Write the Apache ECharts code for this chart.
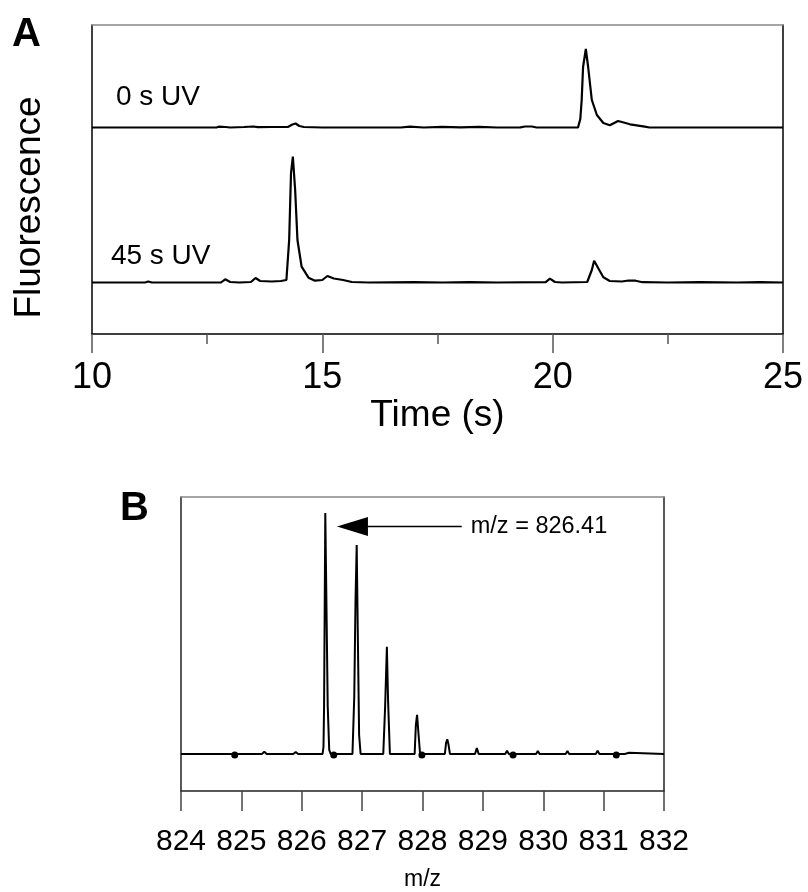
<!DOCTYPE html>
<html>
<head>
<meta charset="utf-8">
<script src="https://cdn.jsdelivr.net/npm/echarts@6/dist/echarts.min.js"></script>
<style>
html,body{margin:0;padding:0;background:#fff;}
#c{width:808px;height:892px;}
</style>
</head>
<body>
<div id="c"></div>
<script>
// ---------- Panel A data: time (s) vs fluorescence (arb.) ----------
var timeTicksA = [10, 15, 20, 25];
var trace0sUV = [
  [10,206.5],[12.7,206.5],[12.75,207.3],[12.9,207],[13.0,206.5],[13.3,207],[13.5,207.5],[13.6,206.8],
  [13.9,207],[14.25,207],[14.35,209.5],[14.42,210.5],[14.5,208],[14.6,207],[15.0,206.5],[16.7,206.5],
  [16.9,207.3],[17.2,206.5],[17.6,207.2],[18.0,206.6],[18.4,207.2],[18.8,206.5],[19.3,206.6],
  [19.4,207.5],[19.55,207.5],[19.65,206.5],[20.55,206.5],[20.6,215],[20.63,234],[20.66,267],
  [20.72,285],[20.77,267],[20.85,234],[20.96,219],[21.1,211],[21.24,208.7],[21.42,213],[21.68,209.7],
  [22.0,207.3],[22.1,206.5],[25,206.5]
];
var trace45sUV = [
  [10,51.5],[11.15,51.5],[11.22,52.5],[11.3,51.5],[12.8,51.5],[12.89,54.7],[13.0,52],[13.2,51.5],
  [13.45,52],[13.55,56],[13.65,53],[13.9,52.5],[14.1,53],[14.22,54],[14.28,94],[14.32,161],
  [14.36,177.3],[14.41,144],[14.46,94],[14.55,67.3],[14.70,56.3],[14.84,53.3],[15.0,54],[15.11,58],
  [15.25,55.5],[15.45,54],[15.64,52],[16.0,51.5],[17.0,51.8],[17.6,51.5],[18.2,51.9],[18.8,51.5],
  [19.85,51.8],[19.94,55.3],[20.05,52],[20.2,51.5],[20.75,52],[20.8,58],[20.85,64],[20.90,73.3],
  [20.99,65.7],[21.10,56.7],[21.24,53],[21.5,52.5],[21.65,53.5],[21.8,53.3],[21.95,51.8],[22.5,51.5],
  [23.2,51.9],[24.0,51.5],[24.5,51.8],[25,51.5]
];
var traceLabels = [[10.52, 237, '0 s UV'], [10.41, 78, '45 s UV']];

// ---------- Panel B data: m/z vs relative intensity ----------
var mzTicksB = [824, 825, 826, 827, 828, 829, 830, 831, 832];
var spectrum = [
  [824.0,0],[825.34,0],[825.38,0.9],[825.42,0],[825.86,0],[825.90,0.8],[825.94,0],
  [826.345,0],[826.36,3],[826.37,20],[826.39,100],[826.41,60],[826.43,20],[826.455,1.7],[826.48,0],
  [826.84,0],[826.87,24],[826.89,63],[826.91,86.7],[826.93,47],[826.95,8],[826.975,0],
  [827.35,0],[827.38,19],[827.41,44.5],[827.43,22],[827.46,0],
  [827.87,0],[827.89,12],[827.91,16.2],[827.935,8],[827.96,0],
  [828.37,0],[828.39,4.5],[828.41,6.1],[828.43,4],[828.455,0],
  [828.87,0],[828.90,2.5],[828.93,0],
  [829.37,0],[829.40,1.4],[829.43,0],
  [829.88,0],[829.91,1.2],[829.94,0],
  [830.37,0],[830.40,1.2],[830.43,0],
  [830.87,0],[830.90,1.4],[830.93,0],
  [831.35,0],[831.37,0.5],[831.42,0.5],[831.44,0],[832,0]
];
var spectrumDots = [[824.89,-0.4],[826.53,-0.4],[827.99,-0.4],[829.50,-0.4],[831.21,-0.4]];
var arrowShaft = [[827.09, 94.4], [828.65, 94.4]];
var arrowHead = [[826.84, 94.4]];
var arrowText = 'm/z = 826.41';

var FONT = 'Arial, "Liberation Sans", sans-serif';
var chart = echarts.init(document.getElementById('c'), null, {renderer: 'canvas'});

function boxAxis(pos, color, gridIndex) {
  return {
    type: 'value', gridIndex: gridIndex, position: pos,
    axisLine: {show: true, onZero: false, lineStyle: {color: color, width: 1.5}},
    axisTick: {show: false}, axisLabel: {show: false}, splitLine: {show: false}
  };
}

var option = {
  animation: false,
  backgroundColor: '#fff',
  grid: [
    {left: 92, right: 25, top: 25, bottom: 558},
    {left: 181, right: 144, top: 497, bottom: 101}
  ],
  xAxis: [
    {
      type: 'value', gridIndex: 0, position: 'bottom', min: 10, max: 25, interval: 5,
      name: 'Time (s)', nameLocation: 'middle', nameGap: 57,
      nameTextStyle: {fontFamily: FONT, fontSize: 37, color: '#000'},
      axisLine: {show: true, onZero: false, lineStyle: {color: '#000', width: 1.5}},
      axisTick: {show: true, length: 19, lineStyle: {color: '#555', width: 1.5}},
      minorTick: {show: true, splitNumber: 2, length: 10, lineStyle: {color: '#555', width: 1.5}},
      axisLabel: {fontFamily: FONT, fontSize: 36, color: '#000', margin: 26,
        formatter: function (v) { return timeTicksA.indexOf(v) >= 0 ? String(v) : ''; }},
      splitLine: {show: false}, minorSplitLine: {show: false}
    },
    Object.assign(boxAxis('top', '#888', 0), {min: 10, max: 25}),
    {
      type: 'value', gridIndex: 1, position: 'bottom', min: 824, max: 832, interval: 1,
      name: 'm/z', nameLocation: 'middle', nameGap: 77,
      nameTextStyle: {fontFamily: FONT, fontSize: 23, color: '#000'},
      axisLine: {show: true, onZero: false, lineStyle: {color: '#222', width: 1.5}},
      axisTick: {show: true, length: 20, lineStyle: {color: '#444', width: 1.5}},
      axisLabel: {fontFamily: FONT, fontSize: 30, color: '#000', margin: 36,
        formatter: function (v) { return mzTicksB.indexOf(v) >= 0 ? String(v) : ''; }},
      splitLine: {show: false}
    },
    Object.assign(boxAxis('top', '#888', 1), {min: 824, max: 832})
  ],
  yAxis: [
    Object.assign(boxAxis('left', '#000', 0), {
      min: 0, max: 309, name: 'Fluorescence', nameLocation: 'middle', nameGap: 44,
      nameTextStyle: {fontFamily: FONT, fontSize: 37, color: '#000', padding: [0, 56, 0, 0]}
    }),
    Object.assign(boxAxis('right', '#000', 0), {min: 0, max: 309}),
    Object.assign(boxAxis('left', '#222', 1), {min: -15.35, max: 106.6}),
    Object.assign(boxAxis('right', '#222', 1), {min: -15.35, max: 106.6})
  ],
  graphic: [
    {type: 'text', left: 12, top: 15, style: {text: 'A', font: 'bold 40px ' + FONT, fill: '#000'}},
    {type: 'text', left: 120, top: 489, style: {text: 'B', font: 'bold 40px ' + FONT, fill: '#000'}}
  ],
  series: [
    {type: 'line', xAxisIndex: 0, yAxisIndex: 0, data: trace0sUV, showSymbol: false,
      lineStyle: {color: '#000', width: 2.2}, silent: true},
    {type: 'line', xAxisIndex: 0, yAxisIndex: 0, data: trace45sUV, showSymbol: false,
      lineStyle: {color: '#000', width: 2.2}, silent: true},
    {type: 'scatter', xAxisIndex: 0, yAxisIndex: 0, symbolSize: 0, itemStyle: {opacity: 1},
      data: traceLabels.map(function (d) { return {value: [d[0], d[1]], name: d[2]}; }),
      label: {show: true, position: [0, 0], align: 'left', verticalAlign: 'middle',
        formatter: '{b}', fontFamily: FONT, fontSize: 28, color: '#000', opacity: 1}},
    {type: 'line', xAxisIndex: 2, yAxisIndex: 2, data: spectrum, showSymbol: false,
      lineStyle: {color: '#000', width: 2}, silent: true},
    {type: 'scatter', xAxisIndex: 2, yAxisIndex: 2, data: spectrumDots, symbol: 'circle',
      symbolSize: 7, itemStyle: {color: '#000', opacity: 1}},
    {type: 'line', xAxisIndex: 2, yAxisIndex: 2, showSymbol: false, lineStyle: {color: '#000', width: 1.5},
      data: arrowShaft,
      endLabel: {show: true, distance: 9, formatter: arrowText, fontFamily: FONT, fontSize: 23.5,
        color: '#000', align: 'left', verticalAlign: 'middle'}},
    {type: 'scatter', xAxisIndex: 2, yAxisIndex: 2, data: arrowHead, symbol: 'triangle',
      symbolRotate: 90, symbolSize: [19, 31], itemStyle: {color: '#000', opacity: 1}}
  ]
};
chart.setOption(option);
</script>
</body>
</html>
